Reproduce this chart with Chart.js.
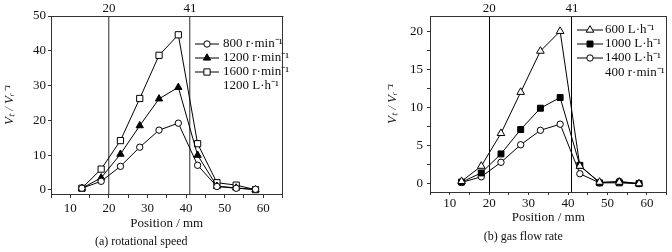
<!DOCTYPE html>
<html>
<head>
<meta charset="utf-8">
<script src="https://cdn.jsdelivr.net/npm/chart.js@4.4.1/dist/chart.umd.min.js"></script>
<style>
html, body { margin: 0; padding: 0; background: #fff; }
.panel { position: absolute; top: 0; width: 336px; height: 252px; }
</style>
</head>
<body>
<div class="panel" style="left:0"><canvas id="speedChart" width="336" height="252"></canvas></div>
<div class="panel" style="left:336px"><canvas id="flowChart" width="336" height="252"></canvas></div>
<script>
// sampling positions along the channel (mm)
const positions = [13, 18, 23, 28, 33, 38, 43, 48, 53, 58];
const markerLines = [20, 41];

// (a) rotational speed, gas flow 1200 L/h
const speed800 = [0.5, 2.5, 6.8, 12.3, 17.2, 19.2, 7.1, 1.0, 0.5, 0.2];
const speed1200 = [0.5, 3.5, 10.3, 18.5, 26.2, 29.5, 10.0, 1.1, 0.6, 0.1];
const speed1600 = [0.5, 6.0, 14.2, 26.3, 38.7, 44.6, 13.3, 2.1, 1.4, 0.1];
const speedLabels = ['800 r\u00b7min\u207b\u00b9', '1200 r\u00b7min\u207b\u00b9', '1600 r\u00b7min\u207b\u00b9'];
const speedNote = '1200 L\u00b7h\u207b\u00b9';

// (b) gas flow rate, 400 r/min
const flow600 = [0.3, 2.3, 6.6, 12.0, 17.4, 20.0, 2.3, 0.2, 0.2, 0.0];
const flow1000 = [0.2, 1.4, 3.9, 7.1, 9.9, 11.3, 2.4, 0.1, 0.1, 0.0];
const flow1400 = [0.15, 0.9, 2.8, 5.1, 7.0, 7.8, 1.3, 0.1, 0.3, 0.0];
const flowLabels = ['600 L\u00b7h\u207b\u00b9', '1000 L\u00b7h\u207b\u00b9', '1400 L\u00b7h\u207b\u00b9'];
const flowNote = '400 r\u00b7min\u207b\u00b9';

const serif = '"Liberation Serif", "Times New Roman", serif';
const ink = '#111';

function toPoints(vals) {
    return positions.map((x, i) => ({ x: x, y: vals[i] }));
}

function series(label, vals, style, filled, radius) {
    return {
        label: label,
        data: toPoints(vals),
        xAxisID: 'x',
        yAxisID: 'y',
        borderColor: '#000',
        borderWidth: 1,
        backgroundColor: filled ? '#000' : '#fff',
        pointStyle: style,
        pointRadius: radius,
        pointBackgroundColor: filled ? '#000' : '#fff',
        pointBorderColor: '#000',
        pointBorderWidth: 1,
        fill: false,
        tension: 0
    };
}

function drawMarker(ctx, style, x, y, r, fillColor) {
    ctx.beginPath();
    if (style === 'circle') {
        ctx.arc(x, y, r, 0, Math.PI * 2);
    } else if (style === 'triangle') {
        for (let k = 0; k < 3; k++) {
            const a = k * 2 * Math.PI / 3;
            const px = x + Math.sin(a) * r;
            const py = y - Math.cos(a) * r;
            if (k === 0) ctx.moveTo(px, py); else ctx.lineTo(px, py);
        }
        ctx.closePath();
    } else {
        const s = r * Math.SQRT1_2;
        ctx.rect(x - s, y - s, 2 * s, 2 * s);
    }
    ctx.fillStyle = fillColor;
    ctx.fill();
    ctx.strokeStyle = '#000';
    ctx.lineWidth = 1;
    ctx.stroke();
}

// legend drawn inside the plot area, with an extra note line
const insideLegend = {
    id: 'insideLegend',
    afterDatasetsDraw(chart, args, opts) {
        const ctx = chart.ctx;
        ctx.save();
        ctx.font = '13px ' + serif;
        ctx.textBaseline = 'middle';
        chart.data.datasets.forEach((ds, i) => {
            const y = opts.rows[i];
            ctx.strokeStyle = '#000';
            ctx.lineWidth = 1;
            ctx.beginPath();
            ctx.moveTo(opts.x, y);
            ctx.lineTo(opts.x + opts.lineLen, y);
            ctx.stroke();
            drawMarker(ctx, ds.pointStyle, opts.x + opts.lineLen / 2, y, ds.pointRadius, ds.pointBackgroundColor);
            ctx.fillStyle = ink;
            ctx.fillText(ds.label, opts.textX, y);
        });
        ctx.fillStyle = ink;
        ctx.fillText(opts.note, opts.textX, opts.rows[3]);
        ctx.restore();
    }
};

function makeConfig(p) {
    return {
        type: 'line',
        data: { datasets: p.datasets },
        plugins: [insideLegend],
        options: {
            responsive: false,
            animation: false,
            layout: { padding: { left: p.padLeft, right: p.padRight, top: 0, bottom: 0 } },
            scales: {
                x: {
                    type: 'linear',
                    position: 'bottom',
                    min: 5,
                    max: 65,
                    ticks: {
                        stepSize: 5,
                        autoSkip: false,
                        maxRotation: 0,
                        padding: p.xTickPad,
                        color: ink,
                        font: { family: serif, size: 13 },
                        callback: v => (v % 10 === 0 ? v : '')
                    },
                    grid: { drawOnChartArea: false, tickLength: p.xTickLen, tickColor: '#333' },
                    border: { color: '#333', width: 1 },
                    title: {
                        display: true,
                        text: 'Position / mm',
                        color: ink,
                        font: { family: serif, size: 13 },
                        padding: { top: 0, bottom: p.xTitlePad }
                    },
                    afterFit: s => { s.height = p.xHeight; }
                },
                top: {
                    type: 'linear',
                    position: 'top',
                    min: 5,
                    max: 65,
                    afterBuildTicks: s => { s.ticks = markerLines.map(v => ({ value: v })); },
                    ticks: {
                        autoSkip: false,
                        maxRotation: 0,
                        padding: 0,
                        color: ink,
                        font: { family: serif, size: 13 }
                    },
                    grid: { drawTicks: false, color: p.lineColor, lineWidth: p.lineWidth },
                    border: { color: '#333', width: 1 },
                    afterFit: s => { s.height = 16; }
                },
                y: {
                    type: 'linear',
                    position: 'left',
                    min: p.yMin,
                    max: p.yMax,
                    ticks: {
                        stepSize: p.yStep / 2,
                        includeBounds: false,
                        padding: p.yTickPad,
                        color: ink,
                        font: { family: serif, size: 13 },
                        callback: v => (v % p.yStep === 0 ? v : '')
                    },
                    grid: { drawOnChartArea: false, tickLength: 3, tickColor: '#333' },
                    border: { color: '#333', width: 1 },
                    title: {
                        display: true,
                        text: 'V\u209c / V\u1d63\u207b\u00b9',
                        color: '#222',
                        font: { family: serif, size: 13, style: 'italic' },
                        padding: { top: p.yTitlePad, bottom: 0 }
                    },
                    afterFit: s => { s.width = p.yWidth; }
                },
                right: {
                    type: 'linear',
                    position: 'right',
                    min: p.yMin,
                    max: p.yMax,
                    ticks: { display: false },
                    grid: { drawOnChartArea: false, drawTicks: false },
                    border: { color: '#333', width: 1 },
                    afterFit: s => { s.width = 0; }
                }
            },
            plugins: {
                legend: { display: false },
                tooltip: { enabled: false },
                title: {
                    display: true,
                    position: 'bottom',
                    text: p.caption,
                    color: ink,
                    font: { family: serif, size: 12, weight: 'normal' },
                    padding: { top: p.capTop, bottom: p.capBottom }
                },
                insideLegend: p.legend
            }
        }
    };
}

const speedChart = new Chart(document.getElementById('speedChart'), makeConfig({
    datasets: [
        series(speedLabels[0], speed800, 'circle', false, 3.2),
        series(speedLabels[1], speed1200, 'triangle', true, 4.2),
        series(speedLabels[2], speed1600, 'rect', false, 4.4)
    ],
    caption: '(a) rotational speed',
    padLeft: 0,
    padRight: 53.5,
    yWidth: 51,
    yTickPad: 2,
    yTitlePad: 2,
    yMin: -1.15,
    yMax: 50,
    yStep: 10,
    xHeight: 37.6,
    xTickLen: 4,
    xTickPad: 3,
    xTitlePad: 0.5,
    capTop: 3,
    capBottom: 3,
    lineColor: '#666',
    lineWidth: 1.4,
    legend: { x: 195, lineLen: 24, textX: 223, rows: [44, 58, 72, 86], note: speedNote }
}));

const flowChart = new Chart(document.getElementById('flowChart'), makeConfig({
    datasets: [
        series(flowLabels[0], flow600, 'triangle', false, 4.4),
        series(flowLabels[1], flow1000, 'rect', true, 4.2),
        series(flowLabels[2], flow1400, 'circle', false, 3.2)
    ],
    caption: '(b) gas flow rate',
    padLeft: 44,
    padRight: 5.4,
    yWidth: 50,
    yTickPad: 4,
    yTitlePad: 5,
    yMin: -1.1,
    yMax: 22,
    yStep: 5,
    xHeight: 33.6,
    xTickLen: 3,
    xTickPad: 1,
    xTitlePad: 0,
    capTop: 4.5,
    capBottom: 7.5,
    lineColor: '#000',
    lineWidth: 1,
    legend: { x: 241, lineLen: 26, textX: 269, rows: [30, 44, 58, 73], note: flowNote }
}));
</script>
</body>
</html>
